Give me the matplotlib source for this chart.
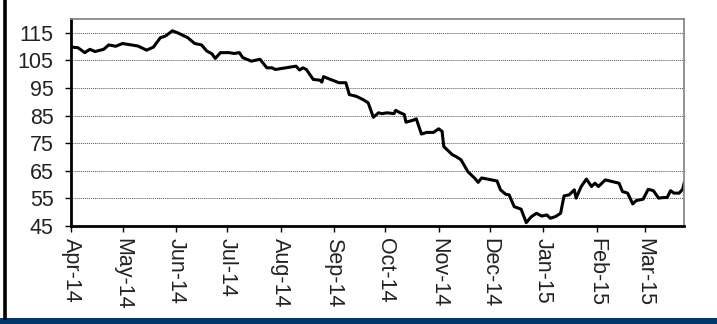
import matplotlib
matplotlib.use("Agg")
import matplotlib.pyplot as plt
import matplotlib.dates as mdates
import pandas as pd
from matplotlib.lines import Line2D
from matplotlib.patches import Rectangle

plt.rcParams['font.family'] = ['Liberation Sans', 'DejaVu Sans']

# daily price readings
dates = ["2014-04-01", "2014-04-05", "2014-04-09", "2014-04-12", "2014-04-15", "2014-04-20",
         "2014-04-23", "2014-04-27", "2014-05-01", "2014-05-06", "2014-05-10", "2014-05-15",
         "2014-05-19", "2014-05-23", "2014-05-26", "2014-05-30", "2014-06-02", "2014-06-06",
         "2014-06-08", "2014-06-12", "2014-06-16", "2014-06-19", "2014-06-22", "2014-06-24",
         "2014-06-27", "2014-07-02", "2014-07-05", "2014-07-08", "2014-07-10", "2014-07-15",
         "2014-07-20", "2014-07-24", "2014-07-27", "2014-07-29", "2014-08-04", "2014-08-10",
         "2014-08-12", "2014-08-14", "2014-08-16", "2014-08-20", "2014-08-24", "2014-08-25",
         "2014-08-26", "2014-08-30", "2014-09-04", "2014-09-08", "2014-09-10", "2014-09-14",
         "2014-09-18", "2014-09-21", "2014-09-24", "2014-09-27", "2014-09-29", "2014-10-02",
         "2014-10-06", "2014-10-07", "2014-10-09", "2014-10-12", "2014-10-13", "2014-10-17",
         "2014-10-19", "2014-10-22", "2014-10-25", "2014-10-29", "2014-11-01", "2014-11-03",
         "2014-11-04", "2014-11-07", "2014-11-09", "2014-11-11", "2014-11-14", "2014-11-18",
         "2014-11-22", "2014-11-24", "2014-11-26", "2014-12-01", "2014-12-05", "2014-12-07",
         "2014-12-10", "2014-12-12", "2014-12-15", "2014-12-19", "2014-12-22", "2014-12-25",
         "2014-12-28", "2014-12-31", "2015-01-03", "2015-01-05", "2015-01-08", "2015-01-11",
         "2015-01-13", "2015-01-16", "2015-01-19", "2015-01-20", "2015-01-23", "2015-01-26",
         "2015-01-29", "2015-01-31", "2015-02-02", "2015-02-06", "2015-02-10", "2015-02-14",
         "2015-02-16", "2015-02-19", "2015-02-22", "2015-02-24", "2015-02-28", "2015-03-03",
         "2015-03-06", "2015-03-09", "2015-03-12", "2015-03-14", "2015-03-16", "2015-03-18",
         "2015-03-21", "2015-03-23", "2015-03-24"]
prices = [109.8, 109.6, 107.8, 109.0, 108.2, 109.0,
          110.6, 110.1, 111.1, 110.6, 110.2, 108.7,
          109.8, 113.2, 113.8, 115.7, 115.0, 113.8,
          113.2, 111.1, 110.6, 108.4, 107.4, 105.7,
          107.8, 107.8, 107.5, 107.8, 106.0, 104.7,
          105.4, 102.3, 102.3, 101.7, 102.3, 102.9,
          101.5, 102.3, 101.7, 98.1, 97.8, 97.1,
          99.1, 98.1, 96.9, 96.9, 92.6, 92.0,
          90.8, 89.6, 84.4, 86.0, 85.7, 86.0,
          85.7, 86.9, 86.2, 85.4, 82.6, 83.3,
          83.8, 78.3, 78.9, 78.9, 80.2, 79.3,
          73.8, 72.0, 70.8, 70.2, 69.0, 64.7,
          62.3, 60.8, 62.4, 61.8, 61.3, 58.1,
          56.5, 56.3, 52.0, 51.1, 46.2, 48.4,
          49.6, 48.6, 49.0, 47.8, 48.4, 49.6,
          55.9, 56.3, 58.1, 55.1, 59.3, 62.0,
          59.3, 60.5, 59.3, 61.7, 61.1, 60.5,
          57.5, 56.9, 53.0, 54.2, 54.7, 58.3,
          57.8, 55.1, 55.3, 55.3, 57.8, 56.9,
          56.9, 58.3, 60.7]
y_ticks = [45, 55, 65, 75, 85, 95, 105, 115]

x = pd.to_datetime(dates)

fig = plt.figure(figsize=(7.17, 3.24), dpi=100)
ax = fig.add_axes([0.099, 0.3025, 0.8554, 0.639])

ax.plot(x, prices, color='black', lw=2.2, solid_joinstyle='round')

ax.set_xlim(pd.Timestamp("2014-04-01"), pd.Timestamp("2015-03-24"))
ax.set_ylim(45, 120)
ax.set_yticks(y_ticks)
ax.xaxis.set_major_locator(mdates.MonthLocator())
ax.xaxis.set_major_formatter(mdates.DateFormatter('%b-%y'))

for yv in y_ticks[1:]:
    ax.axhline(yv, color='#555555', lw=0.7, ls=(0, (1, 1)), zorder=0)

ax.tick_params(axis='y', direction='out', length=4.5, width=1, pad=8,
               labelsize=15.5, labelcolor='#222222')
ax.tick_params(axis='x', direction='out', length=4.5, width=1, pad=4,
               labelsize=15.5, labelcolor='#222222')
for lab in ax.get_xticklabels():
    lab.set_rotation(270)
    lab.set_ha('center')
    lab.set_va('top')

ax.spines['left'].set_linewidth(2)
ax.spines['bottom'].set_linewidth(2)
ax.spines['top'].set_color('#808080')
ax.spines['right'].set_color('#808080')
ax.spines['top'].set_linewidth(1.2)
ax.spines['right'].set_linewidth(1.2)

# frame decorations: black left rule and navy bottom band
fig.add_artist(Line2D([4.5 / 717, 4.5 / 717], [6 / 324, 1], transform=fig.transFigure,
                      color='black', lw=2.6))
fig.add_artist(Rectangle((0, 0), 1, 6 / 324, transform=fig.transFigure,
                         facecolor='#01386b', edgecolor='none'))

fig.savefig('out.png', dpi=100)
